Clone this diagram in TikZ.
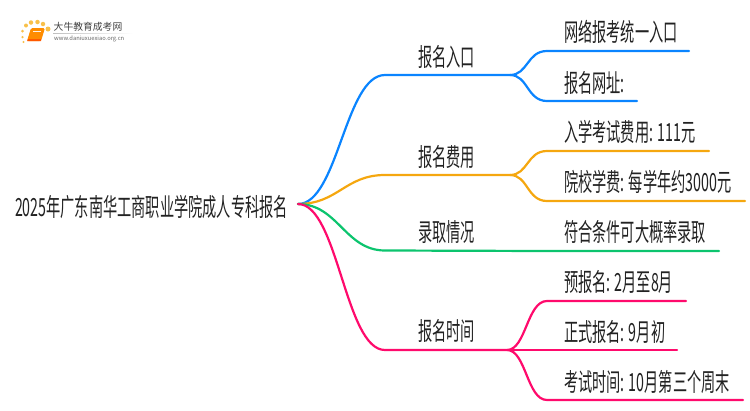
\documentclass[tikz,border=0pt]{standalone}
\usepackage{fontspec}
\setmainfont{Noto Sans CJK SC}
\usetikzlibrary{calc}
\definecolor{cblue}{HTML}{0A84FF}
\definecolor{corange}{HTML}{F5A70F}
\definecolor{cgreen}{HTML}{0CC46E}
\definecolor{cpink}{HTML}{FF0A6C}
\definecolor{ctext}{HTML}{222222}
\definecolor{lgold}{HTML}{F8C04A}
\tikzset{
  lab/.style={anchor=base west,inner sep=0pt,outer sep=0pt,text=ctext,font=\fontsize{25}{27}\selectfont,transform shape,xscale=0.568},
  wire/.style={line width=2.2pt,line cap=round},
  dot/.style={circle,fill=lgold,inner sep=0pt},
}
\begin{document}
\begin{tikzpicture}[x=1pt,y=-1pt]
\useasboundingbox (0,0) rectangle (750,410);
% logo
\node[dot,minimum size=3pt] (d2) at (22.5,31) {};
\node[dot,minimum size=4pt] (d3) at (26,25.5) {};
\node[dot,minimum size=4.5pt] (d4) at (31,22.5) {};
\node[dot,minimum size=4.5pt] (d5) at (37.5,22) {};
\node[dot,minimum size=4.5pt] (d6) at (43,24) {};
\node[dot,minimum size=5pt] (d7) at (48,29) {};
\node[dot,minimum size=2.5pt] (d8) at (22.5,37) {};
\node[dot,minimum size=2.2pt] (d9) at (23.5,42) {};
\fill[orange!90!yellow,rounded corners=1.5pt] (31,28) -- (45,28) -- (41,41) -- (27,41) -- cycle;
\fill[orange!70!red] (28,39) -- (41,39) -- (41,41) -- (27,41) -- cycle;
\draw[white!90!orange,line width=.5pt] (33,31) -- (41,31);
\shade[left color=gray!50,right color=white] (53,33) rectangle (133,33.6);
\node[anchor=west,inner sep=0pt,text=black!75,font=\fontsize{9.8}{10}\selectfont] (lt) at (53.5,27) {大牛教育成考网};
\node[anchor=west,inner sep=0pt,text=black!60,font=\fontsize{5.8}{6}\selectfont] (lu) at (54,38.5) {www.daniuxuexiao.org.cn};
% texts
\node[lab] (root) at (15,216) {2025年广东南华工商职业学院成人专科报名};
\node[lab] (t1) at (418,66) {报名入口};
\node[lab] (t2) at (418,166) {报名费用};
\node[lab] (t3) at (418,241) {录取情况};
\node[lab] (t4) at (418,340) {报名时间};
\node[lab] (a1) at (564,41) {网络报考统一入口};
\node[lab] (a2) at (564,92) {报名网址:};
\node[lab] (b1) at (564,141) {入学考试费用: 111元};
\node[lab] (b2) at (564,191) {院校学费: 每学年约3000元};
\node[lab] (c1) at (564,241) {符合条件可大概率录取};
\node[lab] (d1t) at (564,291) {预报名: 2月至8月};
\node[lab] (d2t) at (564,341) {正式报名: 9月初};
\node[lab] (d3t) at (564,391) {考试时间: 10月第三个周末};
% joints
\coordinate (r) at (298,204);
\coordinate (p1) at (385,75); \coordinate (q1) at (510,75);
\coordinate (p2) at (385,175); \coordinate (q2) at (510,175);
\coordinate (p3) at (385,250.5); \coordinate (q3) at (545,251);
\coordinate (p4) at (385,350); \coordinate (q4) at (507,350);
\coordinate (e1) at (689,51); \coordinate (s1) at (547,51);
\coordinate (e2) at (637,101); \coordinate (s2) at (547,101);
\coordinate (e3) at (709,151); \coordinate (s3) at (547,151);
\coordinate (e4) at (745,201); \coordinate (s4) at (547,201);
\coordinate (e5) at (719,251);
\coordinate (e6) at (686,301); \coordinate (s6) at (547,301);
\coordinate (e7) at (677,350); \coordinate (s7) at (547,350);
\coordinate (e8) at (743,400); \coordinate (s8) at (547,400);
% blue
\draw[wire,cblue] (r) .. controls (338,204) and (345,75) .. (p1) -- (q1)
  .. controls (528,75) and (527,51) .. (s1) -- (e1);
\draw[wire,cblue] (q1) .. controls (528,75) and (527,101) .. (s2) -- (e2);
% orange
\draw[wire,corange] (r) .. controls (338,204) and (345,175) .. (p2) -- (q2)
  .. controls (528,175) and (527,151) .. (s3) -- (e3);
\draw[wire,corange] (q2) .. controls (528,175) and (527,201) .. (s4) -- (e4);
% green
\draw[wire,cgreen] (r) .. controls (338,204) and (345,250.5) .. (p3) -- (q3) -- (e5);
% pink
\draw[wire,cpink] (r) .. controls (338,204) and (345,350) .. (p4) -- (q4)
  .. controls (526,350) and (527,301) .. (s6) -- (e6);
\draw[wire,cpink] (q4) -- (s7) -- (e7);
\draw[wire,cpink] (q4) .. controls (526,350) and (527,400) .. (s8) -- (e8);
\end{tikzpicture}
\end{document}
